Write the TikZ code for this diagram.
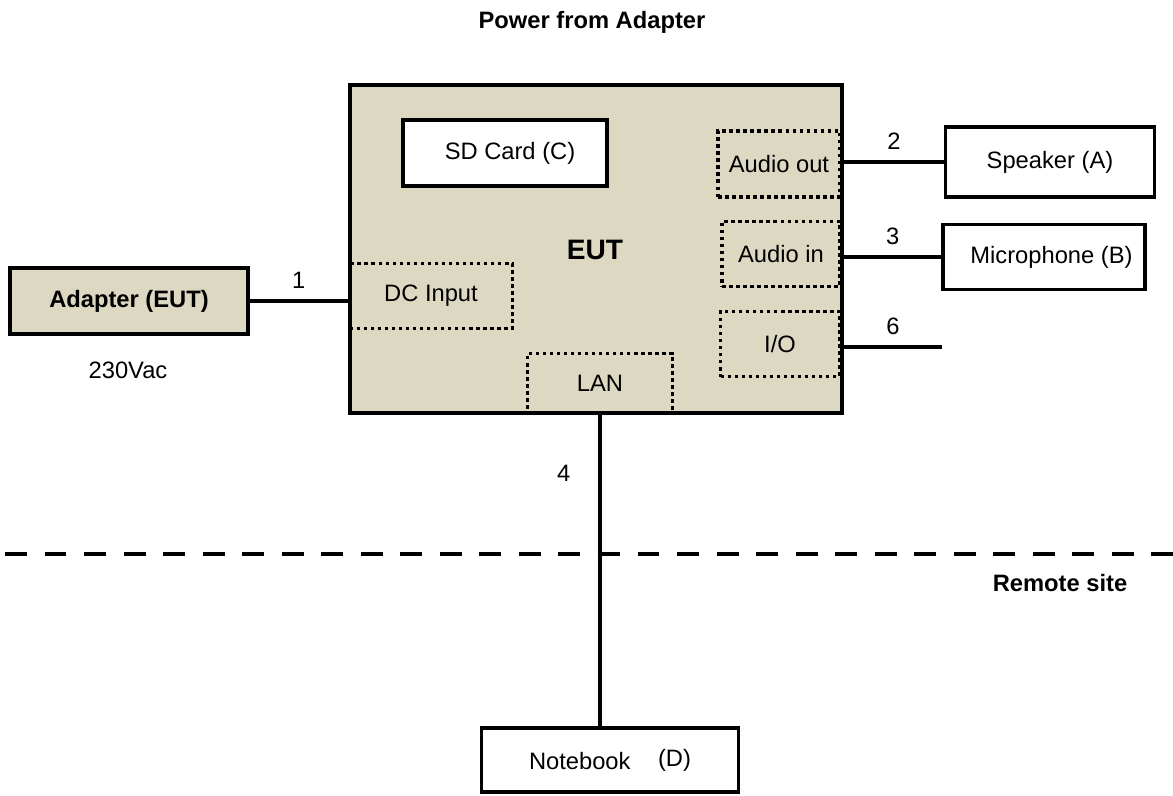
\documentclass[tikz,border=0pt]{standalone}
\usepackage{fontspec}
\setmainfont{Liberation Sans}
\usepackage{tikz}
\usetikzlibrary{calc}
\definecolor{eutbeige}{RGB}{220,216,194}

\begin{document}
\begin{tikzpicture}[x=0.02cm,y=-0.02cm,
  font=\fontsize{13.5}{16}\selectfont,
  unit/.style={draw,line width=1.9pt,rectangle,inner sep=0pt},
  port/.style={draw,line width=2pt,dash pattern=on 2pt off 2pt,rectangle,inner sep=0pt},
  wire/.style={line width=1.9pt},
  wirelabel/.style={font=\fontsize{13.5}{16}\selectfont,inner sep=0pt}]
\useasboundingbox (0,0) rectangle (1173,795);
% titles
\node[font=\fontsize{13.5}{16}\selectfont\bfseries] (title) at (592,22) {Power from Adapter};
\node[font=\fontsize{13.5}{16}\selectfont\bfseries] (remote) at (1060,583) {Remote site};
% main unit
\node[unit,line width=2.4pt,fill=eutbeige,minimum width=9.84cm,minimum height=6.56cm] (eut) at (596,249) {};
\node[font=\fontsize{16}{18}\selectfont\bfseries] (eutlabel) at (595,250) {EUT};
\node[unit,fill=white,minimum width=4.08cm,minimum height=1.32cm] (sd) at (505,153) {\hspace{0.2cm}SD Card (C)};
%ports
\node[port,minimum width=2.44cm,minimum height=1.32cm] (audioout) at (779,164) {Audio out};
\node[port,minimum width=2.36cm,minimum height=1.30cm] (audioin) at (781,254) {Audio in};
\node[port,minimum width=2.38cm,minimum height=1.30cm] (io) at (780,344) {I/O};
\node[port,minimum width=3.26cm,minimum height=1.30cm] (dcin) at (431,296) {DC Input};
\node[port,minimum width=2.90cm,minimum height=1.18cm] (lan) at (600,383) {LAN};
% peripherals
\node[unit,fill=eutbeige,font=\fontsize{13.5}{16}\selectfont\bfseries,minimum width=4.76cm,minimum height=1.32cm] (adapter) at (129,301) {Adapter (EUT)};
\node (mains) at (128,370) {230Vac};
\node[unit,minimum width=4.18cm,minimum height=1.40cm] (speaker) at (1050,162) {Speaker (A)};
\node[unit,minimum width=4.04cm,minimum height=1.30cm] (mic) at (1044,257) {\hspace{0.3cm}Microphone (B)};
\node[unit,minimum width=5.14cm,minimum height=1.28cm] (notebook) at (610,760) {Notebook\hspace{0.55cm}\raisebox{2pt}{(D)}};
\coordinate (ioend) at (942,347);
%cables
\draw[wire] (adapter.east) -- node[wirelabel,above=6pt] (c1) {1} (adapter.east -| eut.west);
\draw[wire] (speaker.west -| eut.east) -- node[wirelabel,above=6pt] (c2) {2} (speaker.west);
\draw[wire] (mic.west -| eut.east) -- node[wirelabel,above=6pt] (c3) {3} (mic.west);
\draw[wire] (ioend -| eut.east) -- node[wirelabel,above=6pt] (c6) {6} (ioend);
\draw[wire] (lan.south) -- node[wirelabel,pos=0.19,left=16pt] (c4) {4} (lan.south |- notebook.north);
% site border
\draw[line width=2.8pt,dash pattern=on 12.5pt off 10pt] (5,554) -- (1173,554);
\end{tikzpicture}
\end{document}
